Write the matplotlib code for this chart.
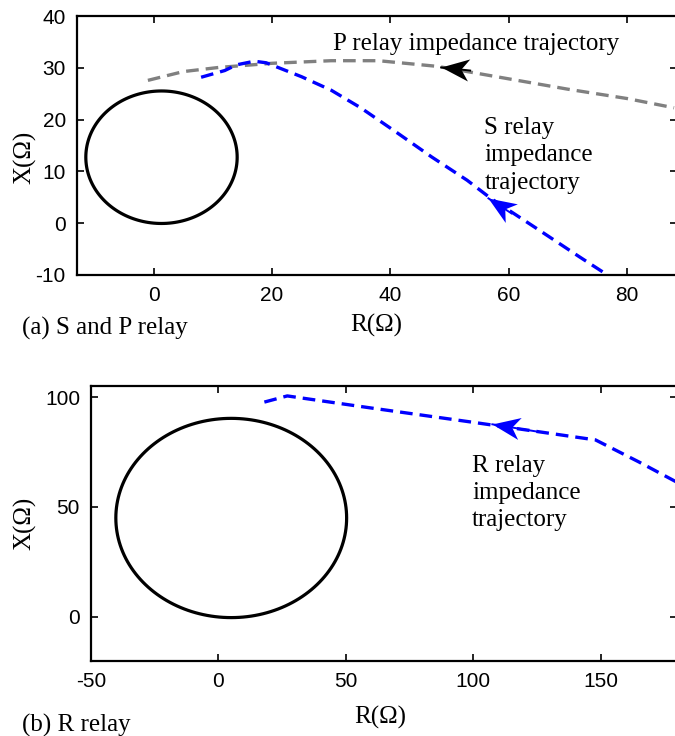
import numpy as np
import matplotlib
matplotlib.use("Agg")
import matplotlib.pyplot as plt
from matplotlib.path import Path
from matplotlib.markers import MarkerStyle
from matplotlib.patches import Polygon
from matplotlib.transforms import Affine2D

plt.rcParams['font.family'] = 'Liberation Sans'
plt.rcParams['font.size'] = 15
plt.rcParams['axes.unicode_minus'] = False
serif = 'Liberation Serif'

# mho characteristics (centre, radius) in ohms
mho_sp_center = (1.3, 12.75)
mho_sp_radius = 12.8
mho_r_center = (5.0, 45.0)
mho_r_radius = 45.3

# P relay impedance trajectory
p_r = [-1, 5, 11, 20, 30, 38, 48, 60, 70, 80, 88]
p_x = [27.6, 29.3, 30.1, 30.9, 31.4, 31.4, 30.3, 27.9, 25.9, 24.1, 22.3]

# S relay impedance trajectory
s_r = [8, 12, 14, 17, 19, 25, 30, 35, 41, 47, 53, 57, 65, 72, 77, 79]
s_x = [28.2, 29.5, 30.6, 31.3, 31.0, 28.3, 25.7, 22.3, 17.6, 12.8, 8.3, 4.8, -1.2, -6.5, -10.2, -11.7]

# R relay impedance trajectory
r_r = [18, 27, 60, 100, 148, 165, 182]
r_x = [97.7, 100.5, 95.0, 88.5, 80.5, 70.5, 60.0]


def mho(ax, center, radius):
    t = np.linspace(0, 2 * np.pi, 180, endpoint=False)
    pts = np.column_stack([center[0] + radius * np.cos(t), center[1] + radius * np.sin(t)])
    ax.add_patch(Polygon(pts, closed=True, fill=False, edgecolor='black', lw=2.3))


def arrow(ax, tail, tip, color, size=40):
    ax.plot([tail[0], tip[0]], [tail[1], tip[1]], color=color, lw=1.4, zorder=4)
    p0 = ax.transData.transform(tail)
    p1 = ax.transData.transform(tip)
    ang = np.degrees(np.arctan2(p1[1] - p0[1], p1[0] - p0[0]))
    head = Path([(0, 0), (-1, 0.4), (-0.72, 0), (-1, -0.4), (0, 0)],
                [Path.MOVETO, Path.LINETO, Path.LINETO, Path.LINETO, Path.CLOSEPOLY])
    m = MarkerStyle(head, transform=Affine2D().rotate_deg(ang))
    ax.plot([tip[0]], [tip[1]], marker=m, ms=size, color=color, mew=0, zorder=5)


def style(ax):
    ax.tick_params(direction='in', top=True, right=True, length=5, width=1.2, pad=8)
    for s in ax.spines.values():
        s.set_linewidth(1.6)


fig = plt.figure(figsize=(6.75, 7.36), dpi=100)

# (a) S and P relay
ax1 = fig.add_axes([0.114, 0.6264, 0.889, 0.3516])
ax1.set_xlim(-13, 88.5)
ax1.set_ylim(-10, 40)
ax1.set_xticks([0, 20, 40, 60, 80])
ax1.set_yticks([-10, 0, 10, 20, 30, 40])
style(ax1)
mho(ax1, mho_sp_center, mho_sp_radius)
ax1.plot(p_r, p_x, color='#808080', lw=2.4, dashes=[3.8, 2.1])
ax1.plot(s_r, s_x, color='blue', lw=2.4, dashes=[3.8, 2.1])
arrow(ax1, (53.5, 29.5), (48.6, 30.1), 'black')
arrow(ax1, (60.5, 1.9), (56.6, 4.8), 'blue')
ax1.text(30.3, 34.7, 'P relay impedance trajectory', family=serif, fontsize=18,
         ha='left', va='center')
ax1.text(55.9, 13.1, 'S relay\nimpedance\ntrajectory', family=serif, fontsize=18,
         ha='left', va='center', linespacing=1.3)

# (b) R relay
ax2 = fig.add_axes([0.135, 0.102, 0.868, 0.3735])
ax2.set_xlim(-50, 180)
ax2.set_ylim(-20, 105)
ax2.set_xticks([-50, 0, 50, 100, 150])
ax2.set_yticks([0, 50, 100])
style(ax2)
mho(ax2, mho_r_center, mho_r_radius)
ax2.plot(r_r, r_x, color='blue', lw=2.4, dashes=[3.8, 2.1])
arrow(ax2, (125, 84.3), (107.5, 87.6), 'blue')
ax2.text(99.6, 56.4, 'R relay\nimpedance\ntrajectory', family=serif, fontsize=18,
         ha='left', va='center', linespacing=1.3)

# axis labels and captions
fig.text(376 / 675, 1 - 325 / 736, 'R(Ω)', family=serif, fontsize=18, ha='center', va='center')
fig.text(25 / 675, 1 - 157 / 736, 'X(Ω)', family=serif, fontsize=18, ha='center', va='center',
         rotation=90)
fig.text(22 / 675, 1 - 328 / 736, '(a) S and P relay', family=serif, fontsize=18,
         ha='left', va='center')
fig.text(380 / 675, 1 - 717 / 736, 'R(Ω)', family=serif, fontsize=18, ha='center', va='center')
fig.text(25 / 675, 1 - 523 / 736, 'X(Ω)', family=serif, fontsize=18, ha='center', va='center',
         rotation=90)
fig.text(22 / 675, 1 - 725 / 736, '(b) R relay', family=serif, fontsize=18,
         ha='left', va='center')

fig.savefig('out.png', dpi=100)
